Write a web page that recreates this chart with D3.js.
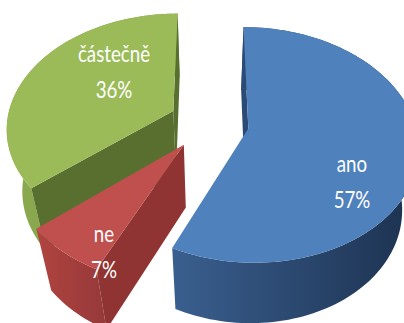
<!DOCTYPE html>
<html>
<head>
<meta charset="utf-8">
<script src="https://cdn.jsdelivr.net/npm/d3@7"></script>
<style>
  body { margin: 0; background: #fff; }
  svg { display: block; }
</style>
</head>
<body>
<svg width="404" height="323"></svg>
<script>
// data
var categories = ['ano', 'ne', 'částečně'];
var values = [57, 7, 36];
var percentLabels = ['57%', '7%', '36%'];

// looks
var topColors = ['#4f81bd', '#c0504d', '#9bbb59'];
var sideColors = [['#3a5f8f', '#1c314f'], ['#b0443f', '#96393a'], ['#8cab50', '#7c9a45']];
var cutColors = ['#2b4a75', '#8f3432', '#586f30'];
var labelPos = [[352, 190], [104, 260], [114, 80]];

var svg = d3.select('svg');
var defs = svg.append('defs');

// 3d view
var phi = 45 * Math.PI / 180, D = 5.12, k = 161, sx = 1.035, u0 = 209, v0 = 122.5;
var thick = 0.6, explode = 0.24;
var cam = [0, D * Math.sin(phi), -D * Math.cos(phi)];

function project(p) {
  var w = p[2] * Math.cos(phi) - p[1] * Math.sin(phi);
  var s = D / (D + w);
  return [u0 + k * sx * p[0] * s, v0 - k * (p[1] * Math.cos(phi) + p[2] * Math.sin(phi)) * s];
}

var pie = d3.pie().sort(null).value(function(d) { return d; });
var arcs = pie(values);
var line = d3.line();

function arcPoints(ox, oz, a0, a1, y) {
  var n = Math.max(2, Math.ceil(Math.abs(a1 - a0) / 0.03));
  return d3.range(n + 1).map(function(i) {
    var t = a0 + (a1 - a0) * i / n;
    return [ox + Math.sin(t), y, oz + Math.cos(t)];
  });
}

var slices = arcs.map(function(a, i) {
  var mid = (a.startAngle + a.endAngle) / 2;
  return { i: i, a: a, ox: explode * Math.sin(mid), oz: explode * Math.cos(mid) };
});
// far slices first
slices.sort(function(p, q) { return q.oz - p.oz; });

slices.forEach(function(sl) {
  var i = sl.i, a0 = sl.a.startAngle, a1 = sl.a.endAngle;
  var g = svg.append('g');
  var cTop = [sl.ox, 0, sl.oz], cBot = [sl.ox, -thick, sl.oz];

  // outer wall
  var topArc = arcPoints(sl.ox, sl.oz, a0, a1, 0);
  var botArc = arcPoints(sl.ox, sl.oz, a1, a0, -thick);
  var wall = topArc.concat(botArc).map(project);
  var xs = d3.extent(wall, function(p) { return p[0]; });
  var gid = 'side' + i;
  var grad = defs.append('linearGradient').attr('id', gid)
    .attr('gradientUnits', 'userSpaceOnUse')
    .attr('x1', xs[0]).attr('x2', xs[1]).attr('y1', 0).attr('y2', 0);
  grad.append('stop').attr('offset', 0).attr('stop-color', sideColors[i][0]);
  grad.append('stop').attr('offset', 1).attr('stop-color', sideColors[i][1]);
  g.append('path').attr('d', line(wall) + 'Z').attr('fill', 'url(#' + gid + ')');

  // cut faces, only those facing the camera
  [[a0, -1], [a1, 1]].forEach(function(c) {
    var t = c[0];
    var n = [c[1] * Math.cos(t), 0, -c[1] * Math.sin(t)];
    var dot = n[0] * (cam[0] - sl.ox) + n[2] * (cam[2] - sl.oz);
    if (dot <= 0) return;
    var oTop = [sl.ox + Math.sin(t), 0, sl.oz + Math.cos(t)];
    var oBot = [oTop[0], -thick, oTop[2]];
    g.append('path')
      .attr('d', line([cTop, oTop, oBot, cBot].map(project)) + 'Z')
      .attr('fill', cutColors[i]);
  });

  // top
  g.append('path')
    .attr('d', line([cTop].concat(topArc).map(project)) + 'Z')
    .attr('fill', topColors[i]);
});

// labels
categories.forEach(function(c, i) {
  var t = svg.append('g')
    .attr('transform', 'translate(' + labelPos[i][0] + ',' + labelPos[i][1] + ') scale(0.78,1)');
  t.append('text').attr('y', -18).text(c);
  t.append('text').attr('y', 18).text(percentLabels[i]);
  t.selectAll('text')
    .attr('text-anchor', 'middle')
    .attr('fill', '#fff')
    .style('font-family', 'Lato, sans-serif')
    .style('font-size', '24px');
});
</script>
</body>
</html>
